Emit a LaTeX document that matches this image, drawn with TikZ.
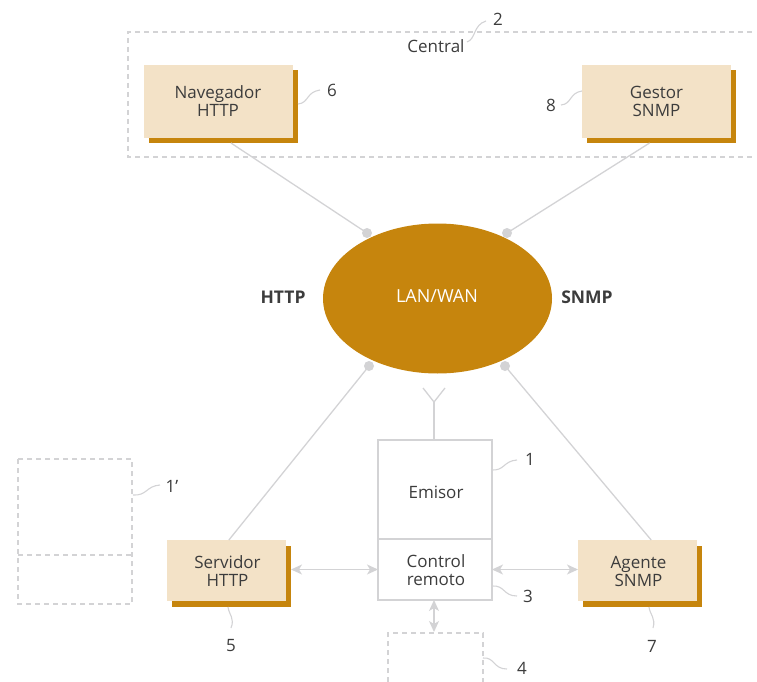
\documentclass[tikz,border=0pt]{standalone}
\usepackage{fontspec}
\setmainfont{Open Sans}
\usetikzlibrary{arrows.meta,calc,shapes.geometric}
\definecolor{cfill}{HTML}{F3E2C7}
\definecolor{cgold}{HTML}{C6850D}
\definecolor{cline}{HTML}{D3D3D5}
\definecolor{ctext}{HTML}{3C3C3C}
\tikzset{
  x=1pt,y=-1pt,
  every node/.style={text=ctext,font=\fontsize{17}{18}\selectfont,inner sep=0pt,outer sep=0pt},
  linea/.style={draw=cline,line width=1.3pt},
  dash box/.style={draw=cline,line width=1.1pt,dash pattern=on 5pt off 4pt},
  lead/.style={draw=cline,line width=1.1pt},
  twoway/.style={linea,{Stealth[length=11pt,width=10pt,inset=3pt]}-{Stealth[length=11pt,width=10pt,inset=3pt]}},
  shadowbox/.style={fill=cgold},
  wide/.style={minimum width=149pt,minimum height=73pt},
  narrow/.style={minimum width=119pt,minimum height=61pt},
  portdot/.style={circle,fill=cline,minimum size=10pt},
  numlabel/.style={},
  proto/.style={font=\fontsize{17.5}{18}\selectfont\bfseries},
}
\begin{document}
\begin{tikzpicture}
\useasboundingbox (0,0) rectangle (757,682);
% dashed frames
\draw[dash box] (752,32) -- (128,32) -- (128,157) -- (752,157);
\draw[dash box] (18,459) rectangle (132,604);
\draw[dash box] (18,555) -- (132,555);
\draw[dash box] (388,682) -- (388,633) -- (483,633) -- (483,682);
% shadows
\node[shadowbox,wide]   (navs) at (223.5,106.5) {};
\node[shadowbox,wide]   (gess) at (661.5,106.5) {};
\node[shadowbox,narrow] (sers) at (231.5,576.5) {};
\node[shadowbox,narrow] (ages) at (642.5,576.5) {};
% faces
\node[fill=cfill,wide]   (nav) at (218.5,101.5) {};
\node[fill=cfill,wide]   (ges) at (656.5,101.5) {};
\node[fill=cfill,narrow] (ser) at (226.5,570.5) {};
\node[fill=cfill,narrow] (age) at (637.5,570.5) {};
\node[align=center] (navt) at (218,101) {Navegador\\HTTP};
\node[align=center] (gest) at (656.5,101) {Gestor\\SNMP};
\node[align=center] (sert) at (227.5,571) {Servidor\\HTTP};
\node[align=center] (aget) at (638.5,571) {Agente\\SNMP};
% LAN
\node[ellipse,fill=cgold,minimum width=229pt,minimum height=150pt] (lan) at (437.5,298.5) {};
\node[text=white,font=\fontsize{18}{18}\selectfont] (lant) at (437,296.5) {LAN/WAN};
% dots
\node[portdot] (da) at (367,233) {};
\node[portdot] (db) at (507,233) {};
\node[portdot] (dc) at (369,366) {};
\node[portdot] (dd) at (505,366) {};
% transmitter
\node[draw=cline,line width=1.3pt,minimum width=114pt,minimum height=99pt] (emi) at (435,489.5) {};
\node (emit) at (436,492.5) {Emisor};
\node[draw=cline,line width=1.3pt,minimum width=114pt,minimum height=61pt] (ctl) at (435,569.5) {};
\node[align=center] (ctlt) at (436,570) {Control\\remoto};
% connectors
\draw[linea] (da.center) -- ($(navs.south west)!0.55!(navs.south east)$);
\draw[linea] (db.center) -- ($(gess.south west)!0.42!(gess.south east)$);
\draw[linea] (dc.center) -- ($(ser.north west)!0.52!(ser.north east)$);
\draw[linea] (dd.center) -- ($(age.north west)!0.615!(age.north east)$);
% antenna
\coordinate (antbase) at (434,402);
\coordinate (antl) at (423,388);
\coordinate (antr) at (445,388);
\draw[linea] (emi.north -| antbase) -- (antbase);
\draw[linea] (antl) -- (antbase) -- (antr);
% arrows
\draw[twoway] (sers.east |- ctl.west) -- (ctl.west);
\draw[twoway] (ctl.east) -- (age.west |- ctl.east);
\coordinate (boxfour) at (434,632);
\draw[twoway] (ctl.south -| boxfour) -- (boxfour);
% labels
\node (central) at (436,46) {Central};
\node[proto] (lhttp) at (283,297) {HTTP};
\node[proto] (lsnmp) at (587,297) {SNMP};
\node[numlabel] (n2) at (498,19) {2};
\node[numlabel] (n6) at (332,90) {6};
\node[numlabel] (n8) at (551,105) {8};
\node[numlabel] (n1p) at (172,486) {1’};
\node[numlabel] (n5) at (231,646) {5};
\node[numlabel] (n1) at (530,459) {1};
\node[numlabel] (n3) at (528,596) {3};
\node[numlabel] (n4) at (522,668) {4};
\node[numlabel] (n7) at (652,646) {7};
% leaders
\draw[lead] (467,42) .. controls (476,39) and (473,25) .. (486,21);
\draw[lead] (298,104) .. controls (309,103) and (306,92) .. (320,90);
\draw[lead] (561,105) .. controls (572,104) and (569,93) .. (582,91);
\draw[lead] (133,495) .. controls (147,496) and (146,486) .. (160,485);
\draw[lead] (228,607) .. controls (229,615) and (235,618) .. (231,628);
\draw[lead] (491,470) .. controls (505,471) and (503,461) .. (517,460);
\draw[lead] (492,586) .. controls (505,585) and (503,596) .. (517,596);
\draw[lead] (483,658) .. controls (495,657) and (493,669) .. (507,669);
\draw[lead] (649,607) .. controls (650,615) and (656,618) .. (653,628);
\end{tikzpicture}
\end{document}
